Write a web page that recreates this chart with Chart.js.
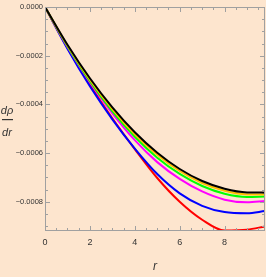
<!DOCTYPE html>
<html><head><meta charset="utf-8">
<script src="https://cdn.jsdelivr.net/npm/chart.js@4/dist/chart.umd.min.js"></script>
<style>html,body{margin:0;padding:0;background:#fde5ce;}canvas{display:block;}</style>
</head><body>
<canvas id="c" width="266" height="277"></canvas>
<script>
const rValues = [0, 1, 2, 3, 4, 5, 6, 7, 8, 9, 9.8];
const blackSeries   = [0, -1.551e-4, -2.927e-4, -4.122e-4, -5.143e-4, -5.984e-4, -6.653e-4, -7.147e-4, -7.465e-4, -7.616e-4, -7.624e-4];
const orangeSeries  = [0, -1.580e-4, -2.980e-4, -4.192e-4, -5.224e-4, -6.065e-4, -6.735e-4, -7.229e-4, -7.547e-4, -7.698e-4, -7.706e-4];
const greenSeries   = [0, -1.612e-4, -3.049e-4, -4.286e-4, -5.327e-4, -6.188e-4, -6.857e-4, -7.351e-4, -7.669e-4, -7.800e-4, -7.788e-4];
const magentaSeries = [0, -1.633e-4, -3.090e-4, -4.367e-4, -5.469e-4, -6.371e-4, -7.061e-4, -7.576e-4, -7.914e-4, -8.024e-4, -7.971e-4];
const blueSeries    = [0, -1.714e-4, -3.253e-4, -4.612e-4, -5.816e-4, -6.861e-4, -7.653e-4, -8.167e-4, -8.424e-4, -8.473e-4, -8.380e-4];
const redSeries     = [0, -1.673e-4, -3.192e-4, -4.571e-4, -5.837e-4, -7.024e-4, -8.000e-4, -8.739e-4, -9.180e-4, -9.147e-4, -9.012e-4];
const xTickValues = [0, 2, 4, 6, 8];
const yTickValues = [0, -0.0002, -0.0004, -0.0006, -0.0008];
const xTitle = 'r';
const yTitleTop = 'dρ';
const yTitleBottom = 'dr';

function pts(arr){ return rValues.map((r,i)=>({x:r,y:arr[i]})); }
function ds(arr,color){ return {data:pts(arr),borderColor:color,borderWidth:2,pointRadius:0,cubicInterpolationMode:'monotone',fill:false}; }

const framePlugin = {
  id:'frame',
  beforeDraw(chart){
    const c=chart.ctx; c.save(); c.fillStyle='#fde5ce'; c.fillRect(0,0,chart.width,chart.height); c.restore();
  },
  afterDatasetsDraw(chart){
    const c=chart.ctx, a=chart.chartArea, xs=chart.scales.x, ys=chart.scales.y;
    c.save();
    c.strokeStyle='#a0a0a0'; c.lineWidth=1;
    c.strokeRect(a.left+0.5,a.top+0.5,a.right-a.left-1,a.bottom-a.top-1);
    c.beginPath();
    for(let v=0; v<=xs.max+1e-9; v+=0.5){
      const px=Math.round(xs.getPixelForValue(v))+0.5;
      const major=Math.abs(v/2-Math.round(v/2))<1e-9;
      const L=major?5:3;
      c.moveTo(px,a.bottom); c.lineTo(px,a.bottom-L);
      c.moveTo(px,a.top); c.lineTo(px,a.top+L);
    }
    for(let k=0; k<=18; k++){
      const v=-k*0.00005;
      if(v<ys.min) break;
      const py=Math.round(ys.getPixelForValue(v))+0.5;
      const major=k%4===0;
      const L=major?5:3;
      c.moveTo(a.left,py); c.lineTo(a.left+L,py);
      c.moveTo(a.right,py); c.lineTo(a.right-L,py);
    }
    c.stroke();
    const cy=(a.top+a.bottom)/2, cx=(a.left+a.right)/2;
    c.fillStyle='#333';
    c.font='italic 12px "Liberation Sans", Arial, sans-serif';
    c.textAlign='center'; c.textBaseline='middle';
    c.fillText(xTitle,cx,267);
    c.font='italic 11px "Liberation Sans", Arial, sans-serif';
    c.fillText(yTitleTop,7,cy-8);
    c.fillText(yTitleBottom,7,cy+14);
    c.fillRect(2,cy,11,1.2);
    c.restore();
  }
};

new Chart(document.getElementById('c'),{
  type:'line',
  data:{datasets:[ds(blackSeries,'#000000'),ds(orangeSeries,'#ffbe00'),ds(greenSeries,'#00ff00'),ds(magentaSeries,'#ff00ff'),ds(blueSeries,'#0000ff'),ds(redSeries,'#ff0000')]},
  options:{
    responsive:false, animation:false, devicePixelRatio:1,
    layout:{padding:{top:7,right:1,left:0,bottom:0}},
    plugins:{legend:{display:false},tooltip:{enabled:false}},
    scales:{
      x:{type:'linear',min:0,max:9.8,
        afterBuildTicks(s){ s.ticks=xTickValues.map(v=>({value:v})); },
        afterFit(s){ s.height=46; },
        grid:{display:false,drawTicks:false},border:{display:false},
        ticks:{padding:6,maxRotation:0,autoSkip:false,color:'#333',font:{size:9,family:'"Liberation Sans", Arial, sans-serif'},callback:v=>String(v)}},
      y:{type:'linear',min:-0.00092,max:0,
        afterBuildTicks(s){ s.ticks=yTickValues.map(v=>({value:v})); },
        afterFit(s){ s.width=45; },
        grid:{display:false,drawTicks:false},border:{display:false},
        ticks:{padding:2,autoSkip:false,color:'#333',font:{size:7.5,family:'"Liberation Sans", Arial, sans-serif'},
          callback:v=> v===0 ? '0.0000' : '\u2212'+Math.abs(v).toFixed(4)}}
    }
  },
  plugins:[framePlugin]
});
</script>
</body></html>
